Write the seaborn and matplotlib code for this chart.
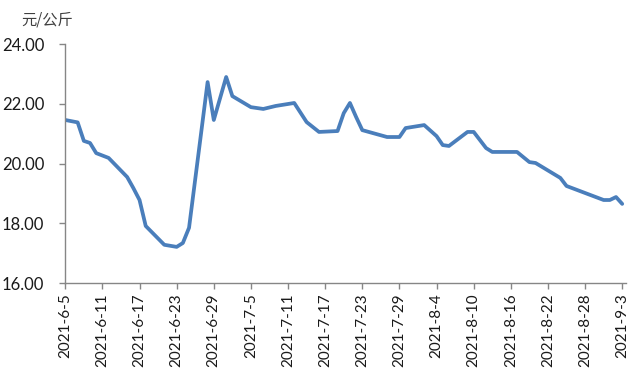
import matplotlib
matplotlib.use("Agg")
import matplotlib.pyplot as plt
import seaborn as sns
import pandas as pd

dates = ["2021-06-05", "2021-06-07", "2021-06-08", "2021-06-09", "2021-06-10", "2021-06-12",
         "2021-06-15", "2021-06-16", "2021-06-17", "2021-06-18", "2021-06-21", "2021-06-23",
         "2021-06-24", "2021-06-25", "2021-06-28", "2021-06-29", "2021-07-01", "2021-07-02",
         "2021-07-05", "2021-07-07", "2021-07-09", "2021-07-12", "2021-07-14", "2021-07-16",
         "2021-07-19", "2021-07-20", "2021-07-21", "2021-07-22", "2021-07-23", "2021-07-27",
         "2021-07-29", "2021-07-30", "2021-08-02", "2021-08-04", "2021-08-05", "2021-08-06",
         "2021-08-09", "2021-08-10", "2021-08-12", "2021-08-13", "2021-08-17", "2021-08-18",
         "2021-08-19", "2021-08-20", "2021-08-24", "2021-08-25", "2021-08-31", "2021-09-01",
         "2021-09-02", "2021-09-03"]
prices = [21.46, 21.38, 20.76, 20.69, 20.35, 20.19,
          19.55, 19.18, 18.78, 17.91, 17.28, 17.21,
          17.34, 17.85, 22.73, 21.46, 22.90, 22.26,
          21.89, 21.83, 21.93, 22.03, 21.39, 21.06,
          21.09, 21.69, 22.03, 21.56, 21.12, 20.89,
          20.89, 21.19, 21.29, 20.92, 20.62, 20.59,
          21.06, 21.06, 20.52, 20.39, 20.39, 20.22,
          20.05, 20.02, 19.52, 19.25, 18.78, 18.78,
          18.88, 18.65]
y_ticks = [16, 18, 20, 22, 24]
unit_label = "元/公斤"

df = pd.DataFrame({"date": pd.to_datetime(dates), "price": prices})

sns.set_theme(style="white")
plt.rcParams["font.family"] = ["Lato", "Noto Sans CJK SC", "DejaVu Sans"]

fig = plt.figure(figsize=(6.4, 3.84), dpi=100)
ax = fig.add_axes([0.102, 0.263, 0.876, 0.622])
sns.lineplot(data=df, x="date", y="price", ax=ax, color="#4a7ebb", linewidth=2.7)

start = pd.Timestamp("2021-06-05")
end = pd.Timestamp("2021-09-03")
ax.set_xlim(start, end + pd.Timedelta(days=0.6))
ax.set_ylim(16, 24)
ax.set_yticks(y_ticks)
ax.set_yticklabels([f"{v:.2f}" for v in y_ticks], fontsize=12, color="#1a1a1a")
xt = pd.date_range(start, end, freq="6D")
ax.set_xticks(xt)
ax.set_xticklabels([f"{d.year}-{d.month}-{d.day}" for d in xt], rotation=90,
                   fontsize=11, color="#1a1a1a")
ax.set_xlabel("")
ax.set_ylabel("")
for s in ["top", "right"]:
    ax.spines[s].set_visible(False)
for s in ["left", "bottom"]:
    ax.spines[s].set_color("#868686")
    ax.spines[s].set_linewidth(1.0)
ax.tick_params(axis="both", direction="out", length=4, width=1, color="#868686",
               bottom=True, left=True)
ax.tick_params(axis="y", pad=11)
ax.tick_params(axis="x", pad=3.5)
fig.text(0.034, 0.935, unit_label, fontsize=11, color="#404040",
         family=["Noto Sans CJK SC", "DejaVu Sans"])
fig.savefig("out.png", dpi=100)
